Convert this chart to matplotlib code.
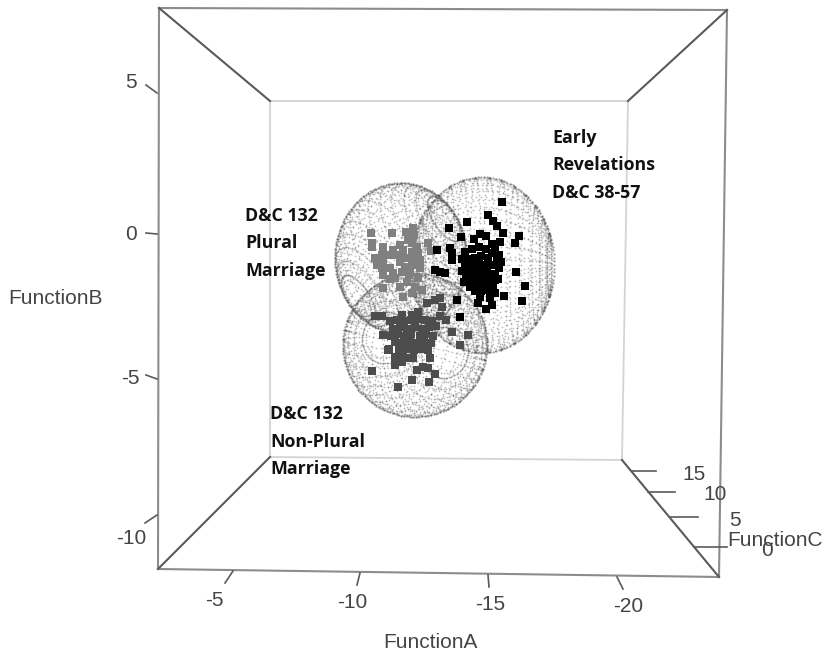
import matplotlib
matplotlib.use("Agg")
import matplotlib.pyplot as plt
import numpy as np

# discriminant scores
early_a = [-15.55, -15.04, -15.22, -15.36, -15.58, -16.16, -16.02, -15.47, -15.18, -14.27, -13.62, -14.05,
           -14.53, -14.75, -14.96, -13.18, -13.65, -13.73, -13.73, -13.11, -13.29, -13.47, -16.05, -16.38,
           -15.62, -16.27, -15.29, -15.22, -15.29, -15.11, -15.18, -14.75, -14.67, -14.96, -13.91, -14.02,
           -14.2, -14.45, -14.7, -14.95, -15.2, -14.3, -14.55, -14.8, -15.05, -15.35, -14.2, -14.45, -14.7,
           -14.95, -15.2, -15.45, -14.25, -14.5, -14.75, -15.0, -15.3, -14.3, -14.6, -14.85, -15.1, -14.4,
           -14.65, -14.9, -15.15, -14.55, -14.8, -15.05, -14.9, -15.3,
           -14.1, -14.1, -14.15, -15.45, -15.5, -15.4]
early_b = [1.07, 0.62, 0.41, 0.24, 0.0, -0.10, -0.34, -0.31, -0.38, 0.38, 0.17, -0.14,
           -0.21, -0.03, -0.10, -0.59, -0.52, -0.69, -0.93, -1.28, -1.34, -1.38, -1.34, -1.83,
           -2.17, -2.34, -1.62, -1.90, -2.07, -2.24, -2.48, -2.21, -2.41, -2.62, -2.31, -2.90,
           -0.65, -0.55, -0.5, -0.55, -0.7, -0.9, -0.85, -0.8, -0.85, -0.95, -1.15, -1.1, -1.05,
           -1.1, -1.1, -1.2, -1.4, -1.35, -1.3, -1.35, -1.4, -1.6, -1.6, -1.55, -1.6, -1.85,
           -1.8, -1.8, -1.75, -2.0, -2.0, -1.95, -1.3, -0.6,
           -0.9, -1.3, -1.7, -0.75, -1.0, -1.6]

plural_a = [-10.78, -11.55, -10.82, -10.82, -11.22, -12.05, -12.31, -12.35, -12.13, -11.84, -12.27, -12.45,
            -11.58, -11.95, -12.27, -12.49, -10.93, -11.18, -11.47, -11.0, -11.22, -12.02, -12.31, -12.56,
            -11.18, -11.47, -12.02, -12.27, -11.84, -12.56, -11.22, -11.58, -11.91, -12.2, -12.49, -12.85,
            -12.96, -11.22, -11.65, -11.84, -12.09, -12.38, -11.47, -11.95, -12.27, -12.64, -11.75, -12.15]
plural_b = [0.0, 0.0, -0.34, -0.48, -0.48, 0.03, 0.17, -0.07, -0.24, -0.41, -0.34, -0.48,
            -0.59, -0.59, -0.66, -0.69, -0.86, -0.76, -0.76, -1.10, -0.93, -0.86, -0.86, -0.93,
            -1.21, -1.21, -1.17, -1.10, -1.0, -1.21, -1.45, -1.38, -1.34, -1.38, -1.55, -0.34,
            -0.62, -1.9, -1.55, -1.86, -1.69, -1.86, -1.6, -2.21, -2.07, -1.97, -0.75, -1.45]

nonplural_a = [-10.82, -11.76, -12.27, -12.89, -13.11, -12.45, -12.67, -12.85, -10.93, -11.18, -11.22, -11.91,
               -12.49, -12.27, -12.82, -13.11, -13.29, -13.36, -13.73, -14.02, -14.31, -11.4, -11.65, -11.65,
               -11.91, -12.13, -12.93, -11.47, -11.73, -11.98, -12.24, -12.49, -12.75, -13.0, -11.6, -11.85,
               -12.1, -12.4, -12.65, -12.9, -13.15, -11.5, -11.75, -12.0, -12.25, -12.55, -12.8, -13.05,
               -11.65, -11.9, -12.2, -12.45, -12.7, -12.95, -11.45, -11.8, -12.1, -12.35, -12.6, -12.85,
               -11.95, -12.3, -12.75, -13.3, -13.5]
nonplural_b = [-4.76, -5.31, -5.07, -5.14, -4.86, -4.72, -4.62, -4.66, -2.86, -2.86, -3.52, -2.83,
               -2.72, -2.83, -2.41, -2.31, -2.24, -2.55, -3.41, -3.86, -3.52, -4.03, -4.28, -4.55,
               -4.45, -4.31, -4.31, -3.05, -3.0, -3.05, -3.0, -2.95, -3.0, -3.05, -3.3, -3.25,
               -3.3, -3.25, -3.3, -3.25, -3.2, -3.55, -3.5, -3.55, -3.5, -3.55, -3.5, -3.55,
               -3.75, -3.8, -3.75, -3.8, -3.75, -3.8, -4.0, -4.05, -4.0, -4.05, -4.0, -4.05,
               -4.25, -4.3, -3.95, -2.85, -3.0]

# ellipsoids: centre A, centre B, radius A, radius B, pole direction on screen
early_ell = (-14.82, -1.10, 2.62, 3.03, (1.0, 0.0, 0.08))
plural_ell = (-11.87, -0.86, 2.40, 2.59, (-0.70, -0.56, 0.44))
nonplural_ell = (-12.38, -3.86, 2.62, 2.48, (-0.44, 0.11, 0.89))

a_ticks = [-5, -10, -15, -20]
b_ticks = [5, 0, -5, -10]
c_ticks = [15, 10, 5, 0]


def sphere_dots(ell, n_mer=40, n_par=16, n_along=44):
    ca, cb, ra, rb, pole = ell
    p = np.array(pole) / np.linalg.norm(pole)
    u = np.cross(p, [0.3, 0.5, 0.8])
    u = u / np.linalg.norm(u)
    v = np.cross(p, u)
    pts = []
    # meridians
    for lon in np.linspace(0, 2 * np.pi, n_mer, endpoint=False):
        t = np.linspace(0, np.pi, n_along)
        pts.append(np.outer(np.cos(t), p) + np.outer(np.sin(t), np.cos(lon) * u + np.sin(lon) * v))
    # parallels
    for lat in np.linspace(0, np.pi, n_par + 2)[1:-1]:
        t = np.linspace(0, 2 * np.pi, n_along * 2, endpoint=False)
        pts.append(np.cos(lat) * p + np.sin(lat) * (np.outer(np.cos(t), u) + np.outer(np.sin(t), v)))
    pts = np.vstack(pts)
    # the pole caps clot into blobs, thin them out
    pts = pts[np.abs(pts @ p) < 0.97]
    # right on screen is more negative A
    return ca - ra * pts[:, 0], cb + rb * pts[:, 1]


def rim_dots(ell, n=150):
    ca, cb, ra, rb, _ = ell
    t = np.linspace(0, 2 * np.pi, n, endpoint=False)
    return ca + ra * np.cos(t), cb + rb * np.sin(t)


fig = plt.figure(figsize=(8.25, 6.54), dpi=100)
plt.rcParams['font.family'] = ['Liberation Sans', 'DejaVu Sans']

# box and labels sit in picture pixels, scores in an axes scaled to the tick spacing
frame = fig.add_axes([0, 0, 1, 1])
frame.set_xlim(0, 825)
frame.set_ylim(654, 0)
frame.axis('off')

ax = fig.add_axes([0, 0, 1, 1])
ax.set_xlim(2.709, -27.291)
ax.set_ylim(-14.517, 8.034)
ax.axis('off')
ax.patch.set_alpha(0)

dark = '#5a5a5a'
edge = '#8c8c8c'
light = '#d4d4d4'
inner = [(270, 101), (628, 101), (622, 460), (270, 457), (270, 101)]
frame.plot(*zip(*inner), color=light, lw=1.3)
frame.plot([159, 727], [8, 10], color=edge, lw=1.5)
frame.plot([727, 719], [10, 577], color=edge, lw=1.5)
frame.plot([719, 158], [577, 569], color=edge, lw=1.5)
frame.plot([158, 159], [569, 8], color=edge, lw=1.5)
frame.plot([159, 270], [8, 101], color=dark, lw=1.5)
frame.plot([727, 628], [10, 101], color=dark, lw=1.5)
frame.plot([719, 622], [577, 460], color=dark, lw=1.5)
frame.plot([158, 270], [569, 457], color=dark, lw=1.5)

# tick stubs
for x0, x1, y0, y1 in [(233, 225, 571, 583), (360, 357, 573, 585), (488, 489, 575, 587), (617, 623, 577, 589)]:
    frame.plot([x0, x1], [y0, y1], color=dark, lw=1.2)
for x0, x1, y0, y1 in [(146, 157, 85, 93), (146, 157, 233, 234), (146, 157, 375, 379), (145, 157, 523, 515)]:
    frame.plot([x0, x1], [y0, y1], color=dark, lw=1.2)
for x0, x1, y in [(632, 656, 471), (648, 675, 492), (670, 698, 517), (695, 727, 547)]:
    frame.plot([x0, x1], [y, y], color=dark, lw=1.2)

tick_font = dict(fontsize=15, color='#444444', ha='center', va='center')
for val, x, y in zip(a_ticks, [214, 352, 490, 628], [600, 602, 604, 607]):
    frame.text(x, y, str(val), **tick_font)
for val, x, y in zip(b_ticks, [131, 131, 130, 131], [82, 234, 379, 539]):
    frame.text(x, y, str(val), **tick_font)
for val, x, y in zip(c_ticks, [694, 715, 735, 767], [474, 495, 520, 551]):
    frame.text(x, y, str(val), **tick_font)
frame.text(430, 642, 'FunctionA', **tick_font)
frame.text(56, 299, 'FunctionB', **tick_font)
frame.text(775, 541, 'FunctionC', **tick_font)

# ellipsoids as wire dots
for ell in [plural_ell, early_ell, nonplural_ell]:
    sx, sy = sphere_dots(ell)
    ax.scatter(sx, sy, s=1.6, color='#555555', alpha=0.38, linewidths=0)
    rx, ry = rim_dots(ell)
    ax.scatter(rx, ry, s=2.6, color='#555555', alpha=0.55, linewidths=0)

ax.scatter(plural_a, plural_b, marker='s', s=28, color='#808080', linewidths=0)
ax.scatter(early_a, early_b, marker='s', s=28, color='#000000', linewidths=0)
ax.scatter(nonplural_a, nonplural_b, marker='s', s=28, color='#4d4d4d', linewidths=0)

note_font = dict(fontsize=12.8, fontweight='bold', family=['Open Sans', 'DejaVu Sans'], color='#111111',
                 va='center', ha='left')
for lines, x, ys in [(['Early', 'Revelations', 'D&C 38-57'], 552, [138, 165, 193]),
                     (['D&C 132', 'Plural', 'Marriage'], 245, [216, 243, 271]),
                     (['D&C 132', 'Non-Plural', 'Marriage'], 270, [414, 442, 469])]:
    for line, y in zip(lines, ys):
        frame.text(x, y, line, **note_font)

fig.savefig('out.png', dpi=100)
